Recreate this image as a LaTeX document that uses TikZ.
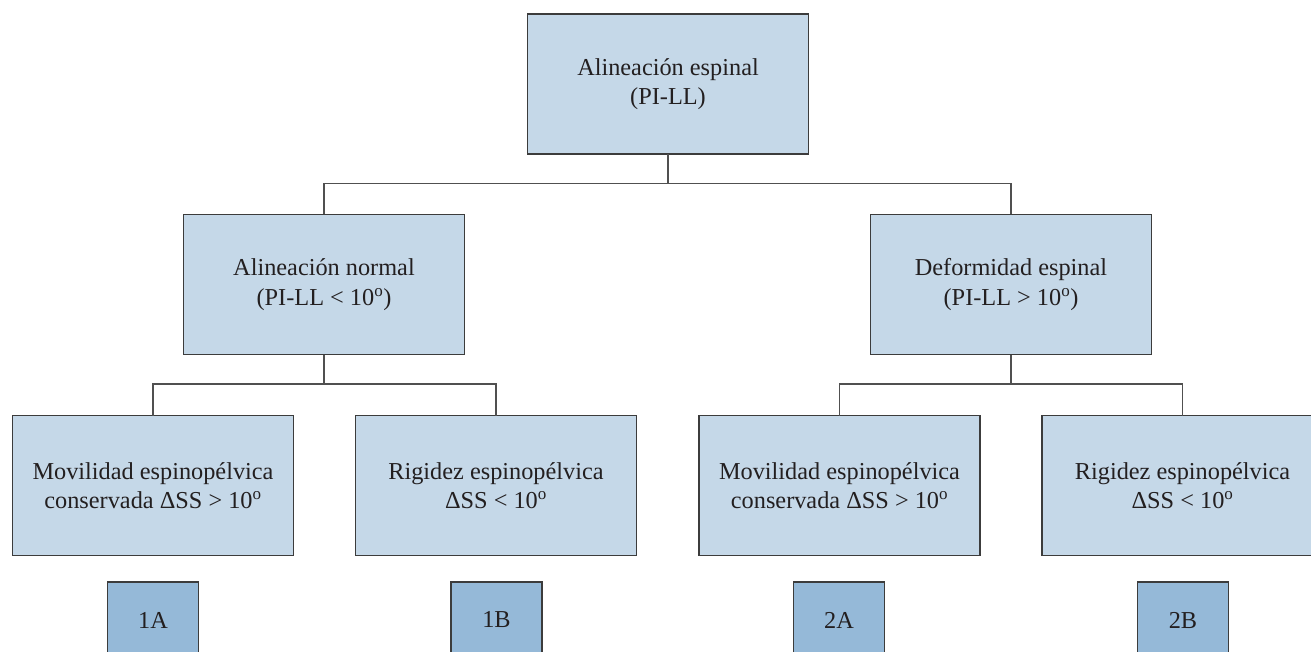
\documentclass[tikz,border=0pt]{standalone}
\usepackage{fontspec}
\setmainfont{Liberation Serif}
\definecolor{boxfill}{HTML}{C5D8E8}
\definecolor{labfill}{HTML}{95B9D8}
\definecolor{edge}{HTML}{3C3C3C}
\definecolor{conn}{HTML}{505050}
\definecolor{ink}{HTML}{231F20}
\begin{document}
\begin{tikzpicture}[x=1pt,y=-1pt,
  catbox/.style={draw=edge,fill=boxfill,line width=1.6pt,minimum width=281pt,minimum height=140pt,inner sep=0pt,outer sep=0pt,align=center,font=\fontsize{24.3}{29.5}\selectfont,text=ink},
  labbox/.style={draw=edge,fill=labfill,line width=1.6pt,minimum width=91pt,minimum height=76pt,inner sep=0pt,outer sep=0pt,anchor=north,font=\fontsize{24.3}{28}\selectfont,text=ink},
  conline/.style={draw=conn,line width=1.4pt}]
\useasboundingbox (0,0) rectangle (1311,652);
\clip (0,0) rectangle (1311,652);
\node[catbox] (top) at (668,84) {Alineación espinal\\(PI-LL)};
\node[catbox] (midL) at (324,284.5) {Alineación normal\\(PI-LL < 10\textsuperscript{o})};
\node[catbox] (midR) at (1011,284.5) {Deformidad espinal\\(PI-LL > 10\textsuperscript{o})};
\node[catbox] (b1) at (153,485.5) {Movilidad espinopélvica\\conservada ΔSS > 10\textsuperscript{o}};
\node[catbox] (b2) at (496,485.5) {Rigidez espinopélvica\\ΔSS < 10\textsuperscript{o}};
\node[catbox] (b3) at (839.5,485.5) {Movilidad espinopélvica\\conservada ΔSS > 10\textsuperscript{o}};
\node[catbox] (b4) at (1182.5,485.5) {Rigidez espinopélvica\\ΔSS < 10\textsuperscript{o}};
\node[labbox] (l1) at (153,582) {1A};
\node[labbox] (l2) at (496.5,582) {1B};
\node[labbox] (l3) at (839,582) {2A};
\node[labbox] (l4) at (1183,582) {2B};
\coordinate (j0) at (668,183.5);
\coordinate (jL) at (324,384);
\coordinate (jR) at (1011,384);
\draw[conline] (top.south) -- (j0);
\draw[conline] (midL.north) -- (midL.north |- j0) -- (midR.north |- j0) -- (midR.north);
\draw[conline] (midL.south) -- (jL);
\draw[conline] (b1.north) -- (b1.north |- jL) -- (b2.north |- jL) -- (b2.north);
\draw[conline] (midR.south) -- (jR);
\draw[conline] (b3.north) -- (b3.north |- jR) -- (b4.north |- jR) -- (b4.north);
\end{tikzpicture}
\end{document}
